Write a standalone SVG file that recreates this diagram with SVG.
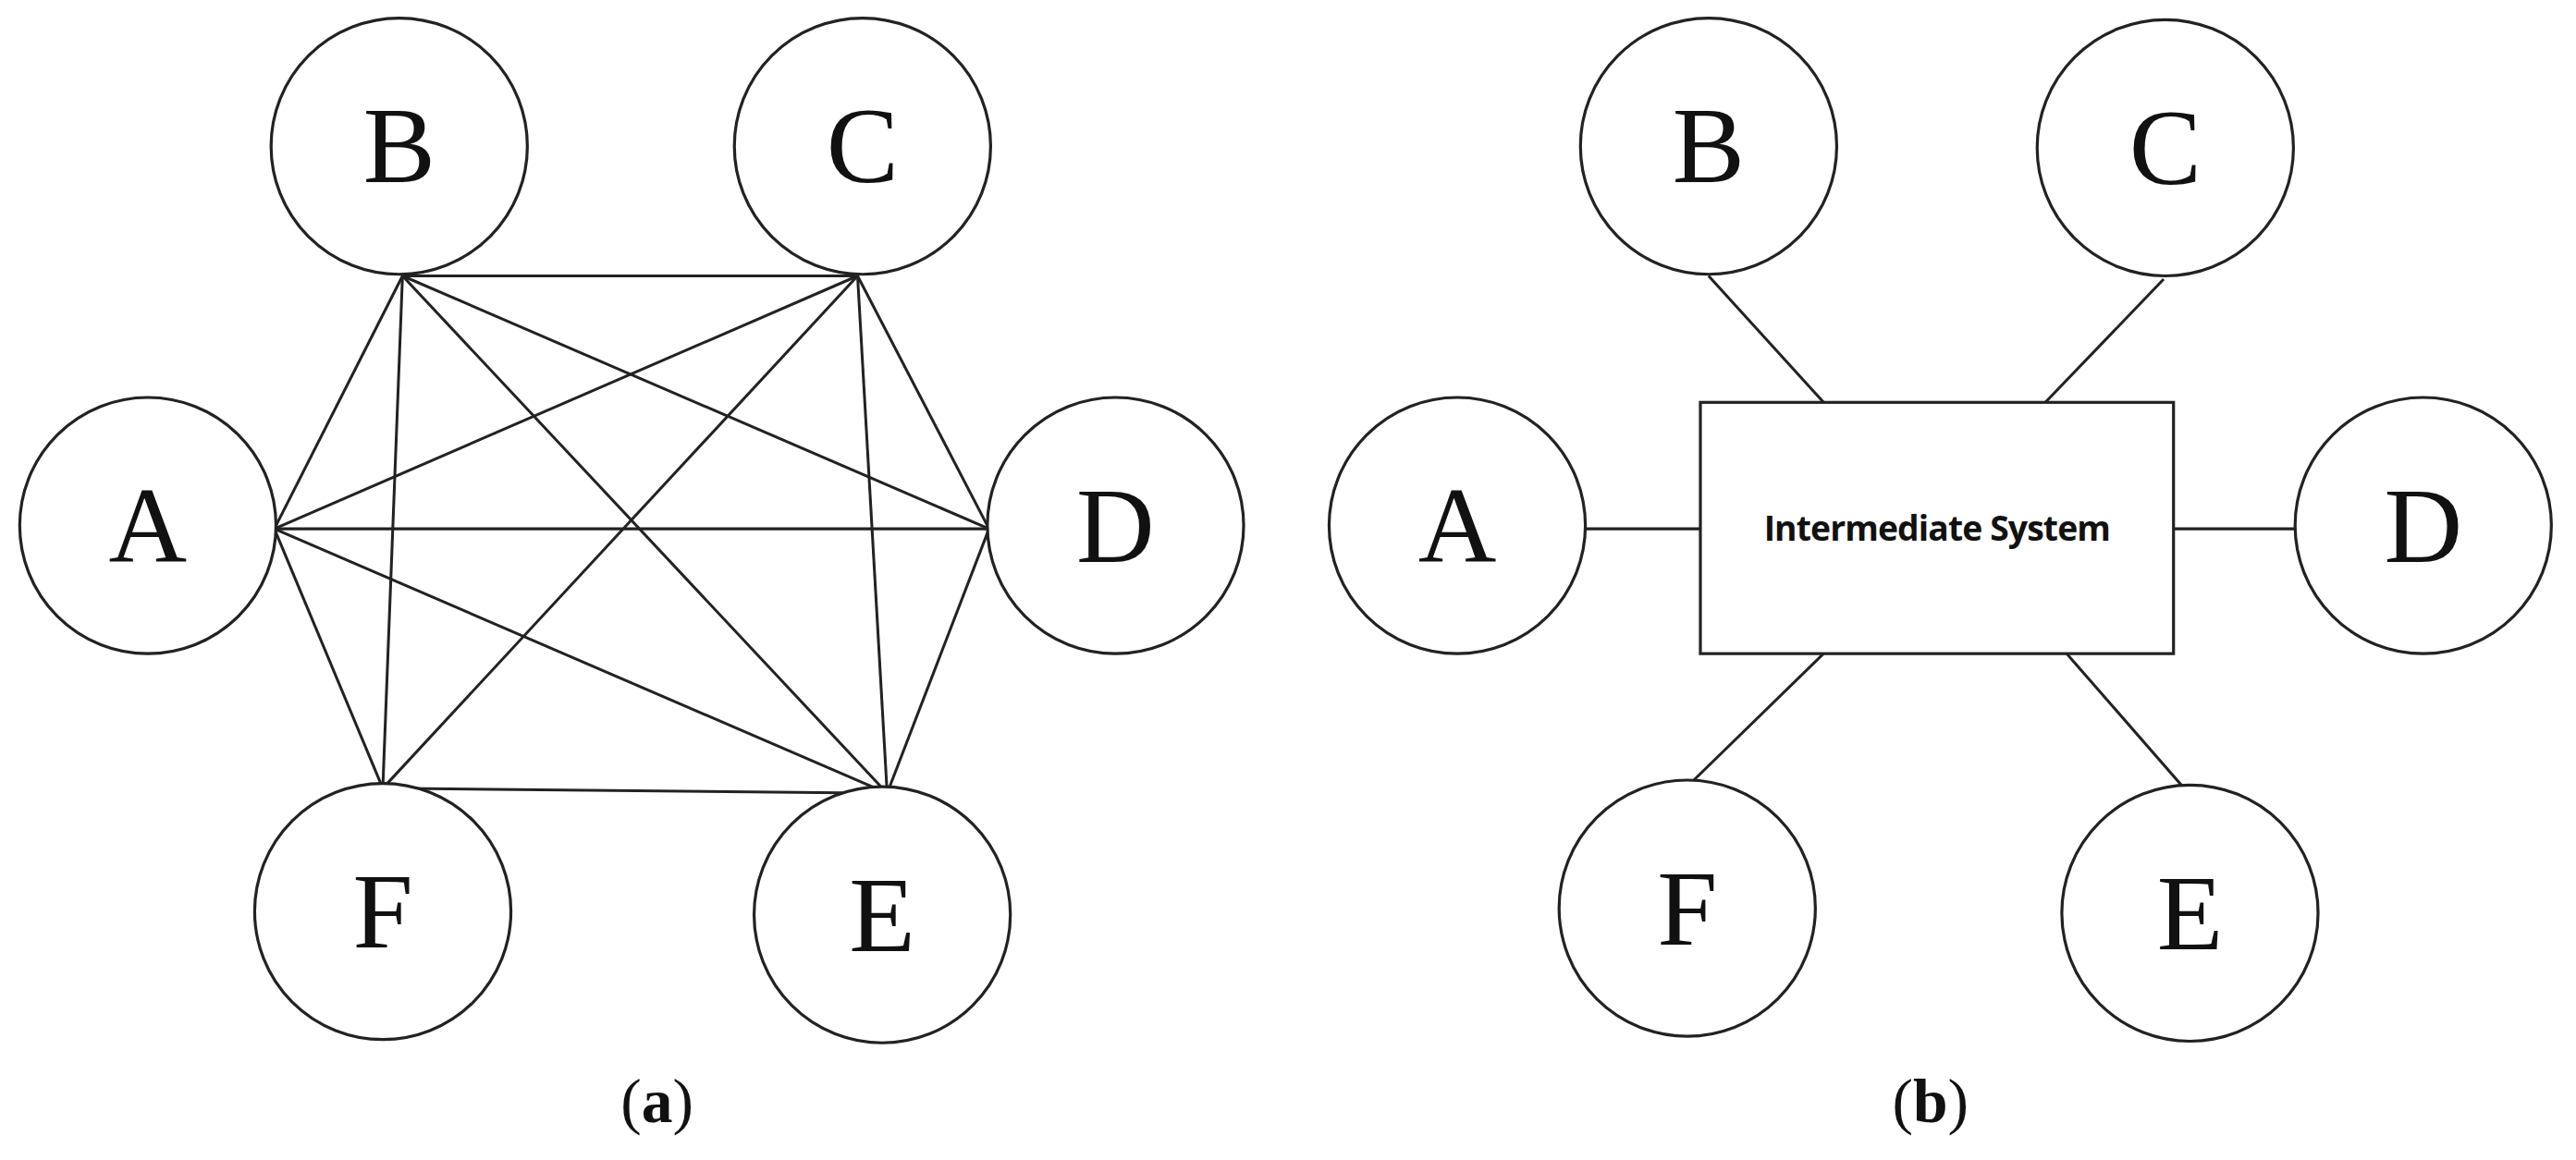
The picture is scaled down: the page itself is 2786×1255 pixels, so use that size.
<svg xmlns="http://www.w3.org/2000/svg" width="2786" height="1255" viewBox="0 0 2786 1255">
<style>
.n{fill:#fff;stroke:#222;stroke-width:1.8}
.l{font-family:"Liberation Serif",serif;font-size:66px;text-anchor:middle;fill:#111}
.c line{stroke:#222;stroke-width:1.7}
.cap{font-family:"Liberation Serif",serif;font-size:38px;text-anchor:middle;fill:#111}
</style>
<rect width="2786" height="1255" fill="#fff"/>
<g transform="scale(1.7768)">
<g class="c" id="mesh">
<line x1="245" y1="168" x2="522" y2="168"/>
<line x1="245" y1="168" x2="167" y2="322"/>
<line x1="245" y1="168" x2="602" y2="322"/>
<line x1="245" y1="168" x2="233" y2="480"/>
<line x1="245" y1="168" x2="540" y2="483"/>
<line x1="522" y1="168" x2="167" y2="322"/>
<line x1="522" y1="168" x2="602" y2="322"/>
<line x1="522" y1="168" x2="233" y2="480"/>
<line x1="522" y1="168" x2="540" y2="483"/>
<line x1="167" y1="322" x2="602" y2="322"/>
<line x1="167" y1="322" x2="233" y2="480"/>
<line x1="167" y1="322" x2="540" y2="483"/>
<line x1="602" y1="322" x2="540" y2="483"/>
<line x1="233" y1="480" x2="540" y2="483"/>
</g>
<g id="a-B"><circle class="n" cx="243" cy="89" r="78"/><text class="l" x="243" y="111">B</text></g>
<g id="a-C"><circle class="n" cx="525" cy="89" r="78"/><text class="l" x="525" y="111">C</text></g>
<g id="a-A"><circle class="n" cx="90" cy="320" r="78"/><text class="l" x="90" y="342">A</text></g>
<g id="a-D"><circle class="n" cx="679" cy="320" r="78"/><text class="l" x="679" y="342">D</text></g>
<g id="a-F"><circle class="n" cx="233" cy="555" r="78"/><text class="l" x="233" y="577">F</text></g>
<g id="a-E"><circle class="n" cx="537" cy="557" r="78"/><text class="l" x="537" y="579">E</text></g>
<text class="cap" x="400" y="683">(<tspan font-weight="bold">a</tspan>)</text>

<g class="c" id="star">
<line x1="1040" y1="168" x2="1110" y2="245"/>
<line x1="1317" y1="170" x2="1245" y2="245"/>
<line x1="964" y1="322" x2="1035" y2="322"/>
<line x1="1323" y1="322" x2="1398" y2="322"/>
<line x1="1110" y1="398" x2="1030" y2="476"/>
<line x1="1258" y1="398" x2="1333" y2="484"/>
</g>
<g id="b-IS"><rect class="n" x="1035" y="245" width="288" height="153"/><text x="1179" y="329" font-family="'Open Sans','Liberation Sans',sans-serif" font-weight="bold" font-size="21" letter-spacing="-0.5" text-anchor="middle" fill="#111">Intermediate System</text></g>
<g id="b-B"><circle class="n" cx="1040" cy="89" r="78"/><text class="l" x="1040" y="111">B</text></g>
<g id="b-C"><circle class="n" cx="1318" cy="90" r="78"/><text class="l" x="1318" y="112">C</text></g>
<g id="b-A"><circle class="n" cx="887" cy="320" r="78"/><text class="l" x="887" y="342">A</text></g>
<g id="b-D"><circle class="n" cx="1475" cy="320" r="78"/><text class="l" x="1475" y="342">D</text></g>
<g id="b-F"><circle class="n" cx="1027" cy="553" r="78"/><text class="l" x="1027" y="575">F</text></g>
<g id="b-E"><circle class="n" cx="1333" cy="556" r="78"/><text class="l" x="1333" y="578">E</text></g>
<text class="cap" x="1175" y="683">(<tspan font-weight="bold">b</tspan>)</text>
</g>
</svg>
